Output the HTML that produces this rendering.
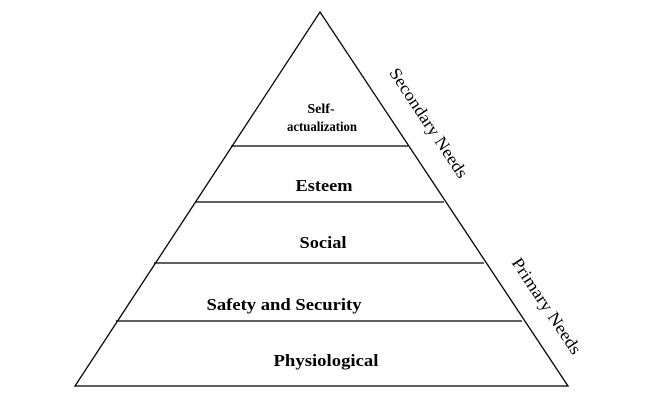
<!DOCTYPE html>
<html><head><style>body{margin:0;background:#fff}svg{display:block}text{font-family:"Liberation Serif","Times New Roman",serif}</style></head>
<body>
<svg width="663" height="419" xmlns="http://www.w3.org/2000/svg">
<polygon points="320,12 568,386 75,386" fill="none" stroke="#000" stroke-width="1.3"/>
<g stroke="#000" stroke-width="1.2">
<line x1="231" y1="146" x2="408" y2="146"/>
<line x1="195" y1="202" x2="444" y2="202"/>
<line x1="154" y1="263" x2="484" y2="263"/>
<line x1="116" y1="321" x2="522" y2="321"/>
</g>
<g font-weight="bold" text-anchor="middle" fill="#000">
<text x="321" y="113" font-size="14">Self-</text>
<text x="322" y="131" font-size="14" textLength="70" lengthAdjust="spacingAndGlyphs">actualization</text>
<text x="324" y="191" font-size="17" textLength="57" lengthAdjust="spacingAndGlyphs">Esteem</text>
<text x="323" y="248" font-size="17" textLength="47" lengthAdjust="spacingAndGlyphs">Social</text>
<text x="284" y="310" font-size="17" textLength="155" lengthAdjust="spacingAndGlyphs">Safety and Security</text>
<text x="326" y="366" font-size="17" textLength="105" lengthAdjust="spacingAndGlyphs">Physiological</text>
</g>
<g font-size="17" text-anchor="middle" fill="#000">
<text transform="translate(424,126) rotate(56.5)" textLength="128" lengthAdjust="spacingAndGlyphs">Secondary Needs</text>
<text transform="translate(542,309) rotate(56.5)" textLength="112" lengthAdjust="spacingAndGlyphs">Primary Needs</text>
</g>
</svg>
</body></html>
